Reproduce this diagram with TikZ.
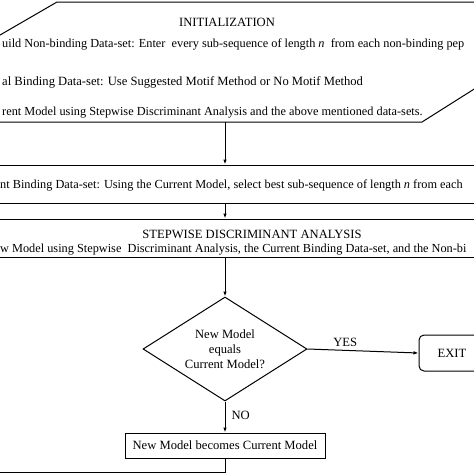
\documentclass[tikz,border=0pt]{standalone}
\usepackage{fontspec}
\setmainfont{Liberation Serif}
\usetikzlibrary{arrows.meta,shapes.geometric}
\begin{document}
\begin{tikzpicture}[x=1pt,y=-1pt,font=\fontsize{12.6}{15}\selectfont,
  line/.style={line width=1pt},
  arr/.style={line,-{Latex[length=5pt,width=3.6pt]}},
  box/.style={draw,line width=1pt,rectangle,inner sep=0pt},
  txt/.style={anchor=base west,inner sep=0pt},
  longtxt/.style={txt,font=\fontsize{12.3}{15}\selectfont},
  ctxt/.style={anchor=base,inner sep=0pt}]
\useasboundingbox (0,0) rectangle (474,474);
\fill[white] (0,0) rectangle (474,474);
\clip (0,0) rectangle (474,474);
% initialization parallelogram
\draw[line] (57,2) -- (612,2) -- (422,122) -- (-150,122) -- cycle;
\coordinate (initb) at (225,122);
\node[ctxt] (ti) at (227,26) {INITIALIZATION};
\node[longtxt] (t1) at (2,47.5) {uild Non-binding Data-set: Enter\ \ every sub-sequence of length \textit{n}\ \ from each non-binding pep};
\node[txt] (t2) at (2,85.5) {al Binding Data-set: Use Suggested Motif Method or No Motif Method};
\node[longtxt] (t3) at (2,115) {rent Model using Stepwise Discriminant Analysis and the above mentioned data-sets.};
% boxes
\node[box,minimum width=600pt,minimum height=38pt] (b2) at (237,184) {};
\node[longtxt] (t4) at (0,188) {nt Binding Data-set: Using the Current Model, select best sub-sequence of length \textit{n} from each};
\node[box,minimum width=600pt,minimum height=38pt] (b3) at (237,238) {};
\node[ctxt] (t5) at (252,238) {STEPWISE DISCRIMINANT ANALYSIS};
\node[longtxt] (t6) at (0,252) {w Model using Stepwise\ \ Discriminant Analysis, the Current Binding Data-set, and the Non-bi};
% decision
\node[draw,line width=1pt,diamond,inner sep=0pt,minimum width=164pt,minimum height=104pt] (dia) at (225,349) {};
\node[align=center,inner sep=0pt] (dt) at (dia.center) {New Model\\equals\\Current Model?};
\node[box,rounded corners=5pt,minimum width=66pt,minimum height=36pt] (exit) at (452,353) {EXIT};
\node[box,minimum width=200pt,minimum height=25pt] (b4) at (225,445.5) {New Model becomes Current Model};
\coordinate (loop) at (-10,472);
% connectors
\draw[arr] (initb) -- (b2.north -| initb);
\draw[arr] (b2.south -| dia.north) -- (b3.north -| dia.north);
\draw[arr] (b3.south -| dia.north) -- (dia.north);
\draw[arr] (dia.east) -- node[pos=0.34,above=3pt,inner sep=0pt] {YES} (exit.west);
\draw[arr] (dia.south) -- node[pos=0.45,right=6pt,inner sep=0pt] {NO} (b4.north);
\draw[line] (b4.south) |- (loop);
\end{tikzpicture}
\end{document}
